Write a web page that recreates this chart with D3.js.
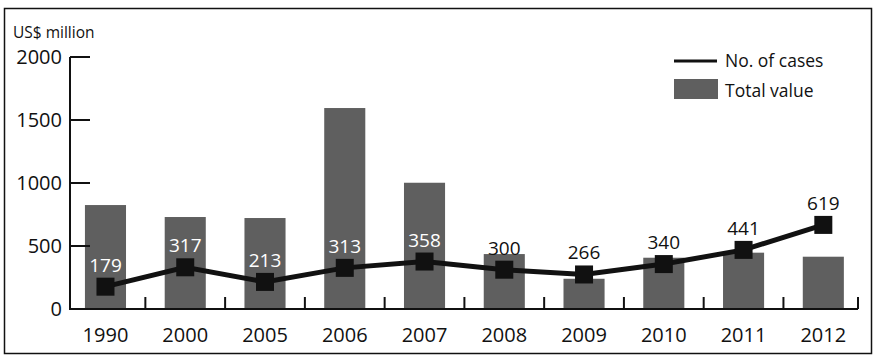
<!DOCTYPE html>
<html>
<head>
<meta charset="utf-8">
<script src="https://cdn.jsdelivr.net/npm/d3@7"></script>
<style>
  body { margin: 0; background: #fff; }
  text { font-family: "Open Sans", "Noto Sans", sans-serif; }
</style>
</head>
<body>
<div id="chart"></div>
<script>
var years = ["1990", "2000", "2005", "2006", "2007", "2008", "2009", "2010", "2011", "2012"];
var totalValue = [825, 730, 722, 1595, 1002, 436, 240, 407, 447, 415];
var cases = [179, 317, 213, 313, 358, 300, 266, 340, 441, 619];
var yTicks = [0, 500, 1000, 1500, 2000];

var svgWidth = 879;
var svgHeight = 362;

var svg = d3.select("#chart")
  .append("svg")
  .attr("width", svgWidth)
  .attr("height", svgHeight);

// outer frame
svg.append("rect")
  .attr("x", 4.5)
  .attr("y", 8.5)
  .attr("width", 867)
  .attr("height", 345)
  .attr("fill", "none")
  .attr("stroke", "#111")
  .attr("stroke-width", 1.5);

var axisLeft = 70, axisRight = 858;

var x = d3.scaleBand()
  .domain(years)
  .range([65.6, 863.2])
  .padding(0);

var y = d3.scaleLinear()
  .domain([0, 2000])
  .range([309, 57]);

// the line sits on its own (unlabelled) scale
var yCases = d3.scaleLinear()
  .domain([20, 1815])
  .range([309, 57]);

var barW = x.bandwidth() * 0.515;

// bars
svg.append("g").selectAll("rect")
  .data(totalValue)
  .enter()
  .append("rect")
  .attr("x", function(d, i) { return x(years[i]) + (x.bandwidth() - barW) / 2; })
  .attr("y", function(d) { return y(d); })
  .attr("width", barW)
  .attr("height", function(d) { return y(0) - y(d); })
  .attr("fill", "#5f5f5f");

// y axis
var yAxis = svg.append("g");
yAxis.append("line")
  .attr("x1", axisLeft).attr("x2", axisLeft)
  .attr("y1", y(2000)).attr("y2", y(0))
  .attr("stroke", "#111").attr("stroke-width", 2);
yAxis.selectAll("line.tick")
  .data(yTicks.filter(function(d) { return d > 0; }))
  .enter()
  .append("line")
  .attr("class", "tick")
  .attr("x1", axisLeft).attr("x2", axisLeft + 20)
  .attr("y1", function(d) { return y(d); })
  .attr("y2", function(d) { return y(d); })
  .attr("stroke", "#111").attr("stroke-width", 2);
yAxis.selectAll("text")
  .data(yTicks)
  .enter()
  .append("text")
  .attr("x", axisLeft - 8)
  .attr("y", function(d) { return y(d); })
  .attr("dy", "0.36em")
  .attr("text-anchor", "end")
  .style("font-size", "20px")
  .attr("fill", "#111")
  .text(function(d) { return d; });

svg.append("text")
  .attr("x", 13)
  .attr("y", 38)
  .style("font-size", "15.5px")
  .attr("fill", "#111")
  .text("US$ million");

// x axis
var xAxis = svg.append("g");
xAxis.append("line")
  .attr("x1", axisLeft - 1).attr("x2", axisRight)
  .attr("y1", y(0)).attr("y2", y(0))
  .attr("stroke", "#111").attr("stroke-width", 2);
xAxis.selectAll("line.tick")
  .data(years.slice(1).concat(["end"]))
  .enter()
  .append("line")
  .attr("class", "tick")
  .attr("x1", function(d) { return d === "end" ? axisRight : x(d); })
  .attr("x2", function(d) { return d === "end" ? axisRight : x(d); })
  .attr("y1", y(0)).attr("y2", y(0) - 12)
  .attr("stroke", "#111").attr("stroke-width", 2);
xAxis.selectAll("text")
  .data(years)
  .enter()
  .append("text")
  .attr("x", function(d) { return x(d) + x.bandwidth() / 2; })
  .attr("y", 342)
  .attr("text-anchor", "middle")
  .style("font-size", "20px")
  .attr("fill", "#111")
  .text(function(d) { return d; });

// line
var line = d3.line()
  .x(function(d, i) { return x(years[i]) + x.bandwidth() / 2; })
  .y(function(d) { return yCases(d); });

svg.append("path")
  .datum(cases)
  .attr("d", line)
  .attr("fill", "none")
  .attr("stroke", "#111")
  .attr("stroke-width", 5);

svg.append("g").selectAll("rect")
  .data(cases)
  .enter()
  .append("rect")
  .attr("x", function(d, i) { return x(years[i]) + x.bandwidth() / 2 - 9; })
  .attr("y", function(d) { return yCases(d) - 9; })
  .attr("width", 18)
  .attr("height", 18)
  .attr("fill", "#111");

svg.append("g").selectAll("text")
  .data(cases)
  .enter()
  .append("text")
  .attr("x", function(d, i) { return x(years[i]) + x.bandwidth() / 2; })
  .attr("y", function(d) { return yCases(d) - 15; })
  .attr("text-anchor", "middle")
  .style("font-size", "19px")
  .attr("fill", function(d, i) {
    // white when the label sits inside its bar
    return yCases(d) - 30 > y(totalValue[i]) ? "#fff" : "#111";
  })
  .text(function(d) { return d; });

// legend
var legend = svg.append("g");
legend.append("line")
  .attr("x1", 674).attr("x2", 717)
  .attr("y1", 61).attr("y2", 61)
  .attr("stroke", "#111").attr("stroke-width", 3);
legend.append("text")
  .attr("x", 725).attr("y", 67)
  .style("font-size", "17.5px")
  .attr("fill", "#111")
  .text("No. of cases");
legend.append("rect")
  .attr("x", 674).attr("y", 79)
  .attr("width", 44).attr("height", 20)
  .attr("fill", "#5f5f5f");
legend.append("text")
  .attr("x", 725).attr("y", 97)
  .style("font-size", "17.5px")
  .attr("fill", "#111")
  .text("Total value");
</script>
</body>
</html>
